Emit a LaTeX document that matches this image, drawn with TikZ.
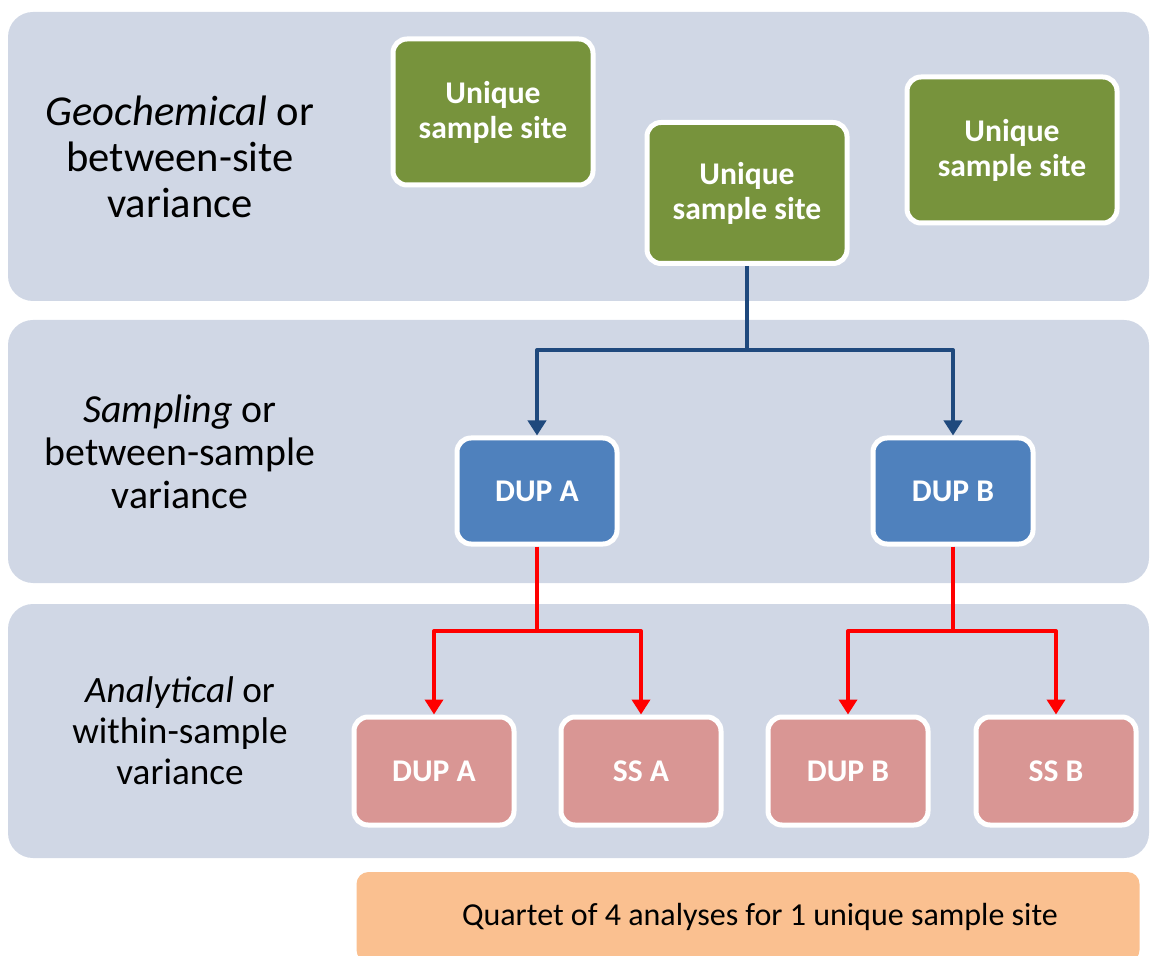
\documentclass[tikz,border=0pt]{standalone}
\usepackage{fontspec}
\setmainfont{Carlito}
\usepackage{xcolor}
\usepackage{tikz}
\usetikzlibrary{arrows.meta}
\definecolor{bandgray}{HTML}{D0D7E5}
\definecolor{sitegreen}{HTML}{77933C}
\definecolor{dupblue}{HTML}{4F81BD}
\definecolor{labpink}{HTML}{D99694}
\definecolor{notepeach}{HTML}{FAC090}
\definecolor{linkblue}{HTML}{1F497D}

\begin{document}
\begin{tikzpicture}[x=0.5pt,y=-0.5pt,
    band/.style={fill=bandgray,rounded corners=12.5pt},
    bandtext/.style={align=center,inner sep=0pt},
    box/.style={draw=white,line width=2.5pt,rounded corners=7pt,text=white,
      font=\fontsize{15.8}{17.5}\selectfont\bfseries,align=center,inner sep=0pt},
    site/.style={box,fill=sitegreen,minimum width=100pt,minimum height=73pt},
    dup/.style={box,fill=dupblue,minimum width=80pt,minimum height=53pt},
    lab/.style={box,fill=labpink,minimum width=80pt,minimum height=54pt},
    note/.style={fill=notepeach,rounded corners=6pt,minimum width=391.5pt,minimum height=45pt,
      inner sep=0pt,font=\fontsize{16}{19}\selectfont},
    link/.style={line width=2pt,line join=round},
    tip/.style={-{Triangle[width=9pt,length=7.5pt]}}]
    \clip (0,0) rectangle (1150,956);
    \fill[band] (8,12) rectangle (1149,301);
    \fill[band] (8,320) rectangle (1149,583);
    \fill[band] (8,604) rectangle (1149,858);

    \node[bandtext,font=\fontsize{21.3}{23}\selectfont] (geo) at (180,157)
      {\textit{Geochemical} or\\between-site\\variance};
    \node[bandtext,font=\fontsize{19.9}{21.5}\selectfont] (samp) at (180,452)
      {\textit{Sampling} or\\between-sample\\variance};
    \node[bandtext,font=\fontsize{18.6}{20.5}\selectfont] (anal) at (180,731)
      {\textit{Analytical} or\\within-sample\\variance};

    \node[site] (site1) at (493,112) {Unique\\sample site};
    \node[site,minimum height=70.5pt] (site2) at (747,193) {Unique\\sample site};
    \node[site,minimum width=105pt] (site3) at (1012,150) {Unique\\sample site};

    \node[dup] (dupA) at (537,491) {DUP A};
    \node[dup] (dupB) at (953,491) {DUP B};

    \node[lab] (labdupA) at (434,771) {DUP A};
    \node[lab] (labssA) at (641,771) {SS A};
    \node[lab] (labdupB) at (848,771) {DUP B};
    \node[lab] (labssB) at (1056,771) {SS B};

    \node[note] (note) at (748,917) {\hspace*{12pt}Quartet of 4 analyses for 1 unique sample site};

    \coordinate (bsplit) at (747,350);
    \coordinate (rsplitA) at (537,631);
    \coordinate (rsplitB) at (953,631);
    \begin{scope}[link,linkblue]
      \draw (site2.south) -- (bsplit);
      \draw[tip] (bsplit) -| (dupA.north);
      \draw[tip] (bsplit) -| (dupB.north);
    \end{scope}
    \begin{scope}[link,red]
      \draw (dupA.south) -- (rsplitA);
      \draw[tip] (rsplitA) -| (labdupA.north);
      \draw[tip] (rsplitA) -| (labssA.north);
      \draw (dupB.south) -- (rsplitB);
      \draw[tip] (rsplitB) -| (labdupB.north);
      \draw[tip] (rsplitB) -| (labssB.north);
    \end{scope}
  \end{tikzpicture}
\end{document}
